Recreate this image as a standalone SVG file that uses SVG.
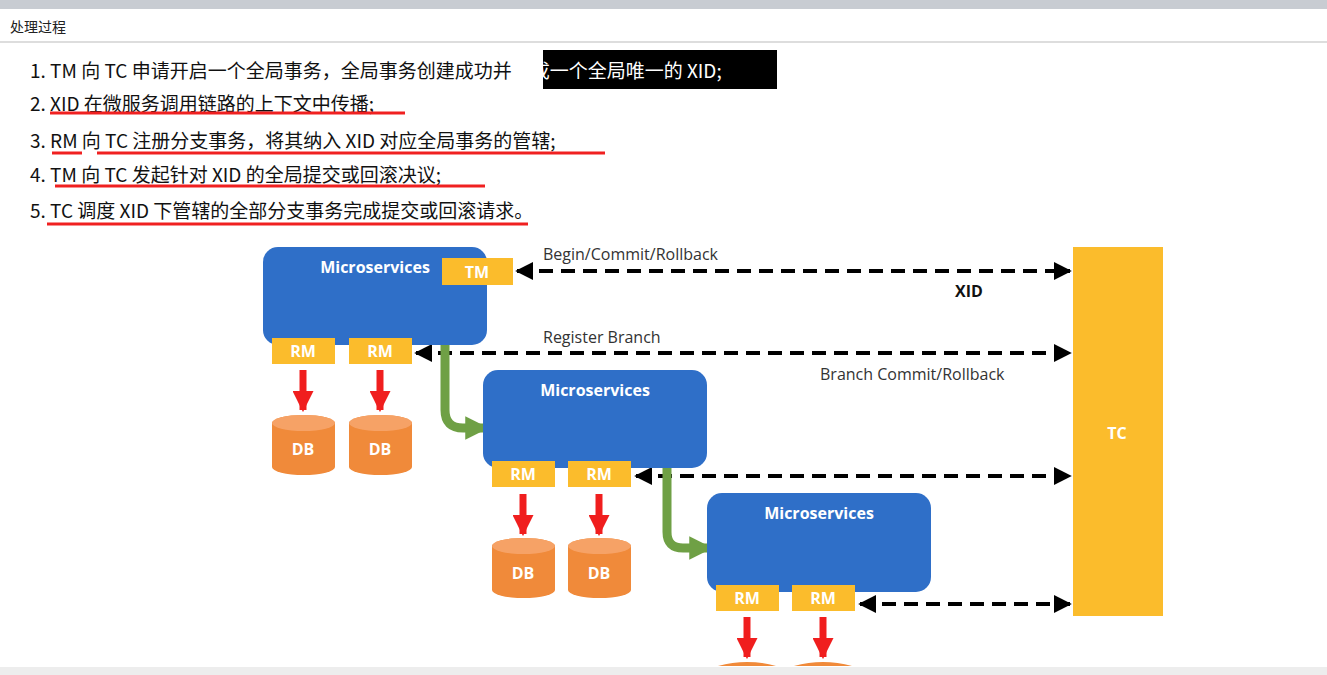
<svg xmlns="http://www.w3.org/2000/svg" width="1327" height="675" viewBox="0 0 1327 675">
<defs>
<style>
.t{font-family:"Noto Sans CJK SC","Noto Sans",sans-serif;font-size:19px;fill:#111}
.ms{fill:#2F6FC8}
.y{fill:#FBBC2C}
.w{font-family:"Open Sans","Liberation Sans",sans-serif;font-weight:bold;fill:#fff;font-size:16px;text-anchor:middle}
.db{fill:#F08A3A}
.dt{fill:#F6A266}
.ul{stroke:#F02020;stroke-width:3}
.dash{stroke:#000;stroke-width:4;stroke-dasharray:14 8;fill:none;marker-start:url(#ah);marker-end:url(#ah)}
.lbl{font-family:"Open Sans","Liberation Sans",sans-serif;font-size:16px;fill:#333}
.red{stroke:#F01E1E;stroke-width:7;marker-end:url(#rh)}
.grn{stroke:#6FA045;stroke-width:9;fill:none;marker-end:url(#gh)}
</style>
<marker id="ah" viewBox="0 0 10 10" refX="9" refY="5" markerWidth="4.5" markerHeight="4.5" orient="auto-start-reverse" markerUnits="strokeWidth"><path d="M0,0L10,5L0,10z" fill="#000"/></marker>
<marker id="rh" viewBox="0 0 10 10" refX="9" refY="5" markerWidth="3" markerHeight="3" orient="auto" markerUnits="strokeWidth"><path d="M0,0L10,5L0,10z" fill="#F01E1E"/></marker>
<marker id="gh" viewBox="0 0 10 10" refX="8" refY="5" markerWidth="2.6" markerHeight="2.6" orient="auto" markerUnits="strokeWidth"><path d="M0,0L10,5L0,10z" fill="#6FA045"/></marker>
<symbol id="cyl" overflow="visible"><path class="db" d="M0,8 A31.5,8 0 0 1 63,8 L63,52 A31.5,8 0 0 1 0,52 Z"/><ellipse class="dt" cx="31.5" cy="8" rx="31.5" ry="8"/></symbol>
</defs>
<rect width="1327" height="675" fill="#fff"/>
<rect width="1327" height="9" fill="#C8CCD2"/>
<rect x="0" y="667" width="1327" height="8" fill="#EDEDED"/>
<line x1="0" y1="42" x2="1327" y2="42" stroke="#BBB"/>
<text x="10" y="32" style="font-family:'Noto Sans CJK SC',sans-serif;font-size:14px;fill:#222">处理过程</text>
<rect x="543" y="50" width="234" height="39" fill="#000"/>
<text class="t" x="30" y="78">1.  TM 向 TC 申请开启一个全局事务，全局事务创建成功并<tspan fill="#fff">生成一个全局唯一的 XID;</tspan></text>
<text class="t" x="30" y="111">2.  XID 在微服务调用链路的上下文中传播;</text>
<text class="t" x="30" y="148">3.  RM 向 TC 注册分支事务，将其纳入 XID 对应全局事务的管辖;</text>
<text class="t" x="30" y="182">4.  TM 向 TC 发起针对 XID 的全局提交或回滚决议;</text>
<text class="t" x="30" y="218">5.  TC 调度 XID 下管辖的全部分支事务完成提交或回滚请求。</text>
<line class="ul" x1="50" y1="113" x2="405" y2="113"/>
<line class="ul" x1="52" y1="153" x2="82" y2="153"/>
<line class="ul" x1="97" y1="153" x2="605" y2="153"/>
<line class="ul" x1="55" y1="186" x2="485" y2="186"/>
<line class="ul" x1="47" y1="224" x2="528" y2="224"/>

<g id="connectors">
<path class="dash" d="M517,271 H1070"/>
<path class="dash" d="M416,353 H1070"/>
<path class="dash" d="M636,476 H1070"/>
<path class="dash" d="M860,604 H1070"/>
<path class="grn" d="M445,338 V410 Q445,428 463,428 H484"/>
<path class="grn" d="M667,462 V532 Q667,548 683,548 H708"/>
<line class="red" x1="303" y1="370" x2="303" y2="410"/>
<line class="red" x1="380" y1="370" x2="380" y2="410"/>
<line class="red" x1="523" y1="494" x2="523" y2="534"/>
<line class="red" x1="599" y1="494" x2="599" y2="534"/>
<line class="red" x1="747" y1="617" x2="747" y2="657"/>
<line class="red" x1="823" y1="617" x2="823" y2="657"/>
</g>
<text class="lbl" x="543" y="260">Begin/Commit/Rollback</text>
<text class="lbl" x="955" y="297" style="font-weight:bold;fill:#111">XID</text>
<text class="lbl" x="543" y="343">Register Branch</text>
<text class="lbl" x="820" y="380">Branch Commit/Rollback</text>

<g id="ms1"><rect class="ms" x="263" y="247" width="224" height="98" rx="15"/><text class="w" x="375" y="273">Microservices</text></g>
<g id="tm"><rect class="y" x="442" y="258" width="71" height="27"/><text class="w" x="477" y="278">TM</text></g>
<g id="rm1a"><rect class="y" x="272" y="338" width="63" height="26"/><text class="w" x="303" y="357">RM</text></g>
<g id="rm1b"><rect class="y" x="349" y="338" width="63" height="26"/><text class="w" x="380" y="357">RM</text></g>
<g id="db1a"><use href="#cyl" x="272" y="415"/><text class="w" x="303" y="455">DB</text></g>
<g id="db1b"><use href="#cyl" x="349" y="415"/><text class="w" x="380" y="455">DB</text></g>

<g id="ms2"><rect class="ms" x="483" y="370" width="224" height="98" rx="15"/><text class="w" x="595" y="396">Microservices</text></g>
<g id="rm2a"><rect class="y" x="492" y="461" width="63" height="26"/><text class="w" x="523" y="480">RM</text></g>
<g id="rm2b"><rect class="y" x="568" y="461" width="63" height="26"/><text class="w" x="599" y="480">RM</text></g>
<g id="db2a"><use href="#cyl" x="492" y="538"/><text class="w" x="523" y="579">DB</text></g>
<g id="db2b"><use href="#cyl" x="568" y="538"/><text class="w" x="599" y="579">DB</text></g>

<g id="ms3"><rect class="ms" x="707" y="493" width="224" height="99" rx="15"/><text class="w" x="819" y="519">Microservices</text></g>
<g id="rm3a"><rect class="y" x="716" y="585" width="63" height="26"/><text class="w" x="747" y="604">RM</text></g>
<g id="rm3b"><rect class="y" x="792" y="585" width="63" height="26"/><text class="w" x="823" y="604">RM</text></g>
<path d="M718,666 Q747,658 776,666 Z M794,666 Q823,658 852,666 Z" fill="#F08A3A"/>

<g id="tc"><rect class="y" x="1073" y="247" width="90" height="369"/><text class="w" x="1117" y="439">TC</text></g>
</svg>
